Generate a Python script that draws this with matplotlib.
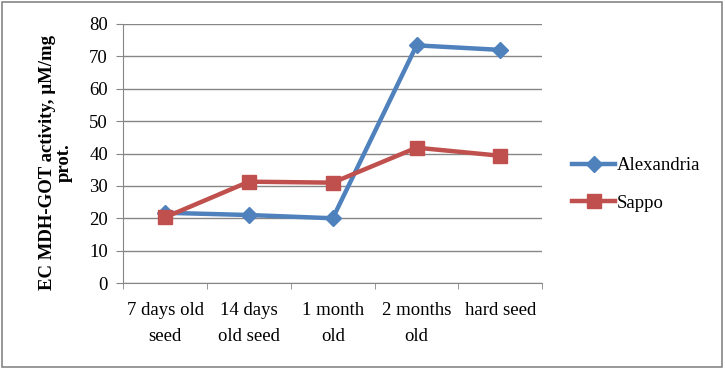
import matplotlib.pyplot as plt
from matplotlib.patches import Rectangle
import numpy as np

categories = ["7 days old\nseed", "14 days\nold seed", "1 month\nold", "2 months\nold", "hard seed"]
alexandria = [21.7, 21.0, 20.0, 73.4, 72.0]
sappo = [20.3, 31.3, 31.0, 41.8, 39.3]

plt.rcParams['font.family'] = ['Liberation Serif', 'DejaVu Serif']
fs = 13.5

fig = plt.figure(figsize=(7.25, 3.69), dpi=100)
ax = fig.add_axes([0.170, 0.233, 0.578, 0.702])

x = np.arange(len(categories))
ax.plot(x, alexandria, color='#4F81BD', lw=3.2, marker='D', ms=8,
        label='Alexandria', zorder=3)
ax.plot(x, sappo, color='#C0504D', lw=3.2, marker='s', ms=10.5,
        label='Sappo', zorder=4)

ax.set_xlim(-0.5, len(categories) - 0.5)
ax.set_ylim(0, 80)
ax.set_yticks(range(0, 81, 10))
ax.set_xticks(x)
ax.set_xticklabels(categories, fontsize=fs, linespacing=1.65)
ax.tick_params(axis='x', length=0, pad=14)
ax.set_xticks(np.arange(-0.5, len(categories), 1), minor=True)
ax.tick_params(axis='x', which='minor', length=4, color='#868686', direction='out')
ax.tick_params(axis='y', labelsize=fs, length=5, color='#868686', pad=6)

ax.yaxis.grid(True, color='#868686', lw=1)
ax.set_axisbelow(True)
for side in ['top', 'right']:
    ax.spines[side].set_visible(False)
ax.spines['left'].set_color('#868686')
ax.spines['bottom'].set_color('#868686')

ax.set_ylabel("EC MDH-GOT activity, \u00b5M/mg\nprot.", fontsize=fs,
              fontweight='bold', labelpad=12, linespacing=0.95, y=0.465)

leg = fig.legend(loc='center left', bbox_to_anchor=(0.766, 0.5), frameon=False,
                 fontsize=fs, handlelength=2.3, labelspacing=1.1, handletextpad=0.1)

fig.patches.append(Rectangle((0.003, 0.005), 0.993, 0.99, transform=fig.transFigure,
                             fill=False, edgecolor='#868686', lw=1.2))

fig.savefig('out.png', dpi=100)
